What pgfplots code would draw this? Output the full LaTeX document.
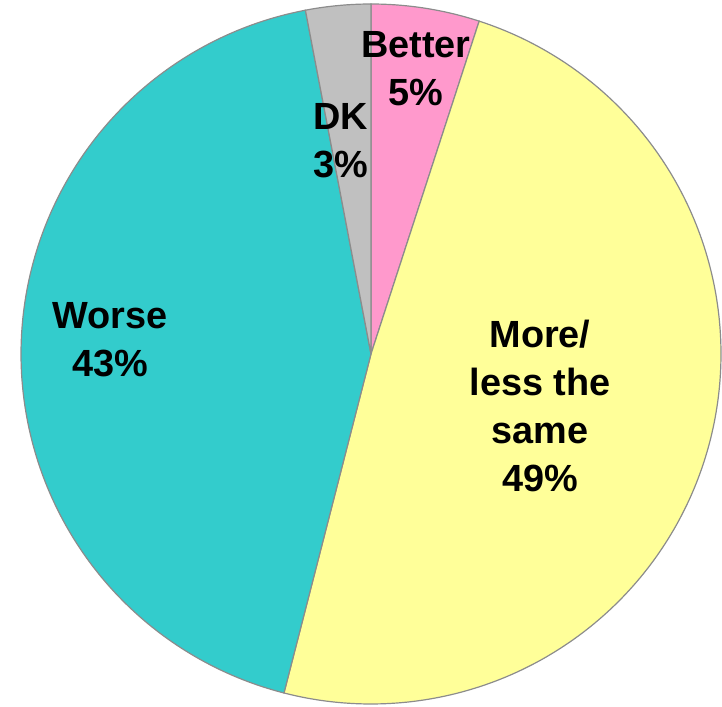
\documentclass[border=0pt]{standalone}
\usepackage{pgfplots}
\pgfplotsset{compat=1.18}
\usepackage{fontspec}
\setmainfont{Liberation Sans}
\definecolor{cBetter}{HTML}{FF99CC}
\definecolor{cSame}{HTML}{FFFF99}
\definecolor{cWorse}{HTML}{33CCCC}
\definecolor{cDK}{HTML}{C0C0C0}
\definecolor{cEdge}{HTML}{8C8C8C}
% shares (per cent), clockwise from 12 o'clock
\def\vBetter{5}
\def\vSame{49}
\def\vWorse{43}
\def\vDK{3}
\def\cx{371}
\def\cy{353}
\def\R{350}
\begin{document}
\begin{tikzpicture}
\pgfmathsetmacro{\aA}{90}
\pgfmathsetmacro{\aB}{\aA-3.6*\vBetter}
\pgfmathsetmacro{\aC}{\aB-3.6*\vSame}
\pgfmathsetmacro{\aD}{\aC-3.6*\vWorse}
\pgfmathsetmacro{\aE}{\aD-3.6*\vDK}
\begin{axis}[
  width=722bp, height=707bp, scale only axis,
  xmin=0, xmax=722, ymin=0, ymax=707,
  hide axis, clip=false,
]
\addplot[fill=cBetter, draw=cEdge, line width=1.2pt, domain=\aB:\aA, samples=40, variable=\t]
  ({\cx+\R*cos(t)},{\cy+\R*sin(t)}) -- (axis cs:\cx,\cy) -- cycle;
\addplot[fill=cSame, draw=cEdge, line width=1.2pt, domain=\aC:\aB, samples=200, variable=\t]
  ({\cx+\R*cos(t)},{\cy+\R*sin(t)}) -- (axis cs:\cx,\cy) -- cycle;
\addplot[fill=cWorse, draw=cEdge, line width=1.2pt, domain=\aD:\aC, samples=200, variable=\t]
  ({\cx+\R*cos(t)},{\cy+\R*sin(t)}) -- (axis cs:\cx,\cy) -- cycle;
\addplot[fill=cDK, draw=cEdge, line width=1.2pt, domain=\aE:\aD, samples=30, variable=\t]
  ({\cx+\R*cos(t)},{\cy+\R*sin(t)}) -- (axis cs:\cx,\cy) -- cycle;
\tikzset{lab/.style={align=center, font=\fontsize{38}{48}\selectfont\bfseries, inner sep=0pt}}
\node[lab] at (axis cs:416,638) {Better\\5\%};
\node[lab] at (axis cs:341,566) {DK\\3\%};
\node[lab] at (axis cs:110,367) {Worse\\43\%};
\node[lab] at (axis cs:540,301) {More/\\less the\\same\\49\%};
\end{axis}
\pgfresetboundingbox
\path[use as bounding box] (current axis.south west) rectangle (current axis.north east);
\end{tikzpicture}
\end{document}
